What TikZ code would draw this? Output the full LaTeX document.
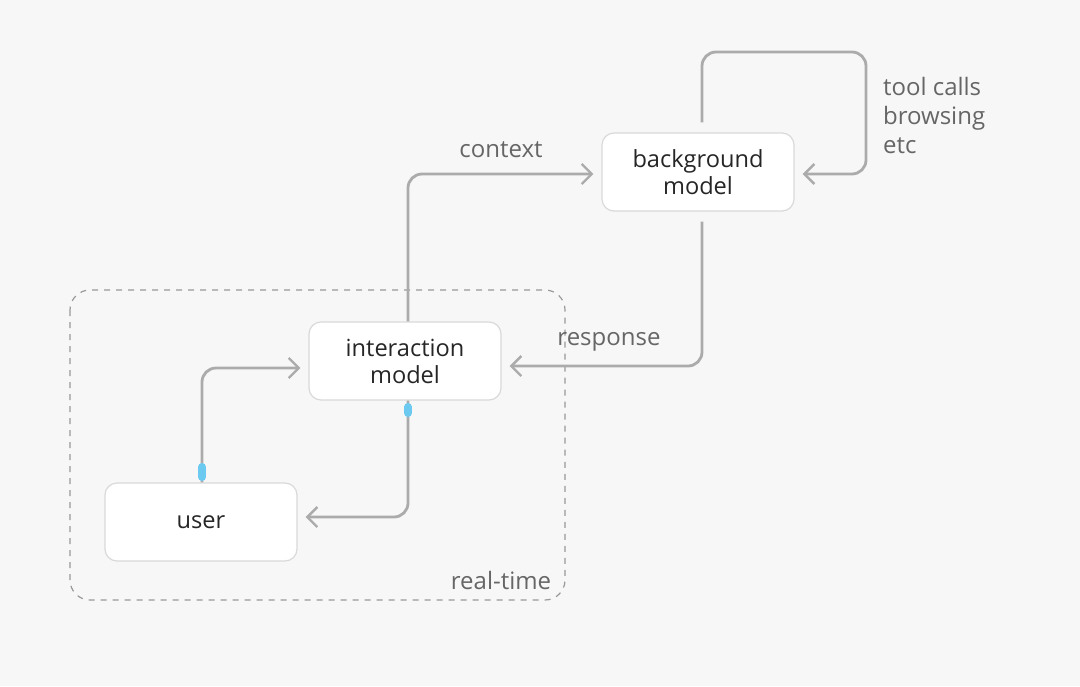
\documentclass[tikz,border=0pt]{standalone}
\usepackage{fontspec}
\setmainfont{Open Sans}
\usetikzlibrary{arrows.meta,positioning,calc}
\definecolor{bgray}{HTML}{F7F7F7}
\definecolor{lgray}{HTML}{ABABAB}
\definecolor{tgray}{HTML}{666666}
\definecolor{tblue}{HTML}{6CCAF0}
\tikzset{
  box/.style={draw=black!15, fill=white, rounded corners=6pt, line width=0.6pt,
    minimum width=96pt, minimum height=39pt, align=center, font=\fontsize{11.8}{13.5}\selectfont, text=black!85},
  conn/.style={draw=lgray, line width=1.4pt, rounded corners=7pt,
    -{Straight Barb[length=5pt,width=10pt,line width=1.2pt]}, shorten >=4pt},
  lbl/.style={text=tgray, font=\fontsize{12}{14.5}\selectfont},
  tick/.style={draw=tblue, line width=4pt, line cap=round}
}
\begin{document}
\begin{tikzpicture}[x=0.5pt,y=-0.5pt]
  \fill[bgray] (0,0) rectangle (1080,686);
  \useasboundingbox (0,0) rectangle (1080,686);
  % real-time group
  \draw[dashed, draw=black!40, line width=0.6pt, rounded corners=10pt] (70,290) rectangle (565,600);
  \node[lbl] (rt) at (501,580) {real-time};
  % boxes
  \node[box] (bg) at (698,172) {background\\model};
  \node[box] (inter) at (405,361) {interaction\\model};
  \node[box] (user) at (201,522) {user};
  % context
  \draw[conn] ([xshift=1.5pt]inter.north) |- ([yshift=-1pt]bg.west);
  \node[lbl] (ctx) at (501,150) {context};
  % tool loop
  \coordinate (lpb) at (866,52);
  \draw[conn] ([xshift=2pt,yshift=5pt]bg.north) |- (lpb) |- ([yshift=-1pt]bg.east);
  \node[lbl, anchor=north west, align=left] (tools) at (876,70) {tool calls\\browsing\\etc};
  % response
  \draw[conn] ([xshift=2pt,yshift=-5pt]bg.south) |- ([yshift=-2.5pt]inter.east);
  \node[lbl] (resp) at (609,342) {response};
  % user <-> interaction
  \draw[conn] ([xshift=0.5pt]user.north) |- ([yshift=-3.5pt]inter.west);
  \draw[conn] ([xshift=1.5pt]inter.south) |- ([yshift=2.5pt]user.east);
  \draw[tick] (202,467) -- (202,477);
  \draw[tick] (408,407) -- (408,413);
\end{tikzpicture}
\end{document}
